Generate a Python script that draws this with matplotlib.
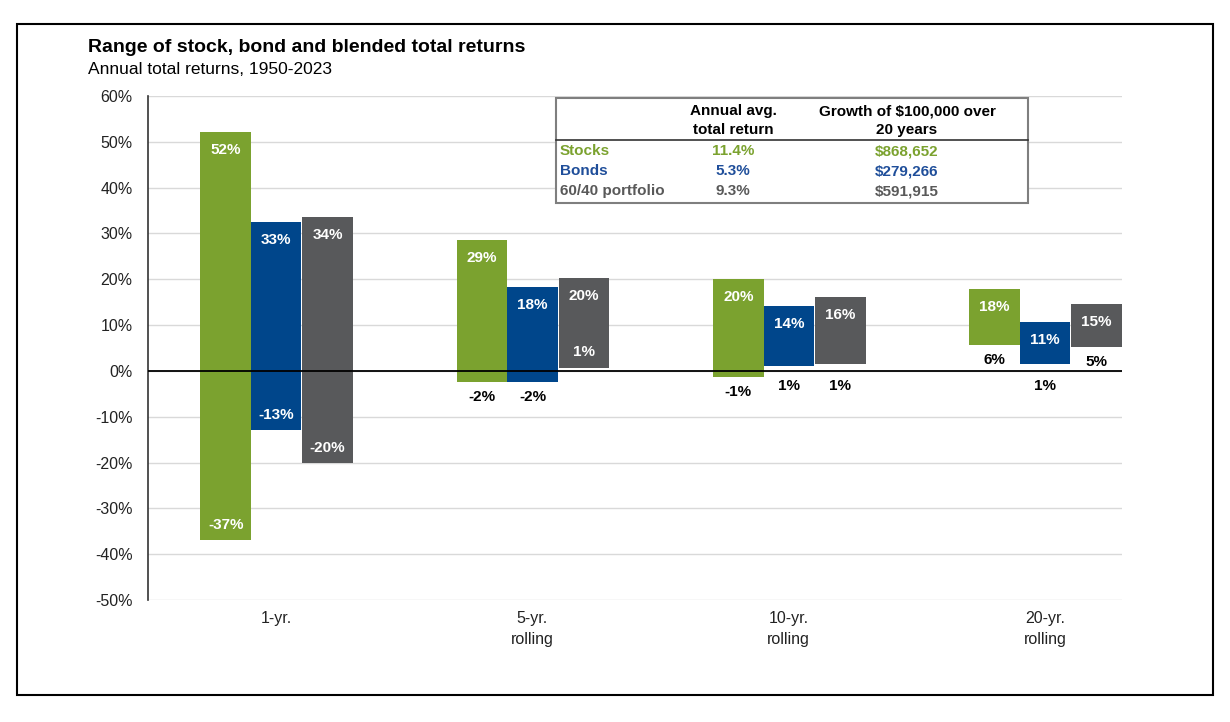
import numpy as np
import matplotlib.pyplot as plt
from matplotlib.patches import Rectangle

plt.rcParams['font.family'] = ['Liberation Sans', 'DejaVu Sans']

categories = ["1-yr.", "5-yr.\nrolling", "10-yr.\nrolling", "20-yr.\nrolling"]
series = ["Stocks", "Bonds", "60/40 portfolio"]
highs = [
    [52.2, 28.6, 20.1, 17.9],   # stocks
    [32.6, 18.3, 14.1, 10.7],   # bonds
    [33.6, 20.3, 16.2, 14.7],   # 60/40
]
lows = [
    [-36.9, -2.4, -1.3, 5.7],
    [-13.0, -2.4, 1.1, 1.4],
    [-20.1, 0.7, 1.4, 5.2],
]
colors = ["#7BA22F", "#00468B", "#58595B"]
table_colors = ["#7BA22F", "#1F4E9A", "#595959"]

avg_return = ["11.4%", "5.3%", "9.3%"]
growth = ["$868,652", "$279,266", "$591,915"]

fig = plt.figure(figsize=(12.3, 7.22), dpi=100)
ax = fig.add_axes([148/1230, 1 - 600/722, (1122-148)/1230, (600-96)/722])

x = np.arange(len(categories))
w = 0.197
offsets = [-w, 0.0, w + 0.004]
lab_fs = 11
for i in range(3):
    lo = np.array(lows[i])
    hi = np.array(highs[i])
    ax.bar(x + offsets[i], hi - lo, bottom=lo, width=w, color=colors[i], zorder=3)
    for j in range(len(categories)):
        xc = x[j] + offsets[i]
        ax.annotate(f"{round(hi[j])}%", (xc, hi[j]), xytext=(0, -13), textcoords="offset points",
                    ha="center", va="center", color="white", fontsize=lab_fs, fontweight="bold", zorder=4)
        inside = lo[j] < -10 or (lo[j] > 0 and hi[j] - lo[j] > 18)
        if inside:
            ax.annotate(f"{round(lo[j])}%", (xc, lo[j]), xytext=(0, 11), textcoords="offset points",
                        ha="center", va="center", color="white", fontsize=lab_fs, fontweight="bold", zorder=4)
        else:
            ax.annotate(f"{round(lo[j])}%", (xc, min(lo[j], 0) if lo[j] < 2 else lo[j]), xytext=(0, -11),
                        textcoords="offset points", ha="center", va="center", color="black",
                        fontsize=lab_fs, fontweight="bold", zorder=4)

ax.set_xlim(-0.5, 3.3)
ax.set_ylim(-50, 60)
ax.set_yticks(np.arange(-50, 61, 10))
ax.set_yticklabels([f"{v}%" for v in range(-50, 61, 10)], fontsize=11.5, color="#222222")
ax.set_xticks(x)
ax.set_xticklabels(categories, fontsize=11.5, color="#222222", linespacing=1.45)
ax.tick_params(axis="both", length=0)
ax.tick_params(axis="y", pad=11)
ax.tick_params(axis="x", pad=8)
ax.grid(axis="y", color="#D9D9D9", linewidth=1, zorder=0)
ax.axhline(0, color="black", linewidth=1.3, zorder=5)
for s in ["top", "right", "bottom"]:
    ax.spines[s].set_visible(False)
ax.spines["left"].set_color("#333333")
ax.spines["left"].set_linewidth(1.2)

# outer frame
fig.patches.append(Rectangle((17/1230, 1 - 695/722), (1213-17)/1230, (695-24)/722,
                             transform=fig.transFigure, fill=False, edgecolor="black", linewidth=1.5))

fig.text(88/1230, 1 - 48/722, "Range of stock, bond and blended total returns", fontsize=14,
         fontweight="bold", va="center", ha="left")
fig.text(88/1230, 1 - 70/722, "Annual total returns, 1950-2023", fontsize=12.5, va="center", ha="left")

# summary table
fig.patches.append(Rectangle((556/1230, 1 - 203/722), (1028-556)/1230, (203-98)/722,
                             transform=fig.transFigure, facecolor="white", edgecolor="#7F7F7F",
                             linewidth=1.5, zorder=6))
fig.add_artist(plt.Line2D([556/1230, 1028/1230], [1 - 140/722, 1 - 140/722], color="#333333",
                          linewidth=1.2, zorder=7))
tfs = 11
fig.text(733/1230, 1 - 111/722, "Annual avg.", fontsize=tfs, fontweight="bold", ha="center", va="center", zorder=8)
fig.text(733/1230, 1 - 130/722, "total return", fontsize=tfs, fontweight="bold", ha="center", va="center", zorder=8)
fig.text(907/1230, 1 - 111/722, "Growth of $100,000 over", fontsize=tfs, fontweight="bold", ha="center", va="center", zorder=8)
fig.text(907/1230, 1 - 130/722, "20 years", fontsize=tfs, fontweight="bold", ha="center", va="center", zorder=8)
row_y = [151, 171, 191]
for i in range(3):
    yy = 1 - row_y[i] / 722
    fig.text(560/1230, yy, series[i], fontsize=tfs, fontweight="bold", color=table_colors[i], ha="left", va="center", zorder=8)
    fig.text(733/1230, yy, avg_return[i], fontsize=tfs, fontweight="bold", color=table_colors[i], ha="center", va="center", zorder=8)
    fig.text(907/1230, yy, growth[i], fontsize=tfs, fontweight="bold", color=table_colors[i], ha="center", va="center", zorder=8)

fig.savefig("out.png", dpi=100)
